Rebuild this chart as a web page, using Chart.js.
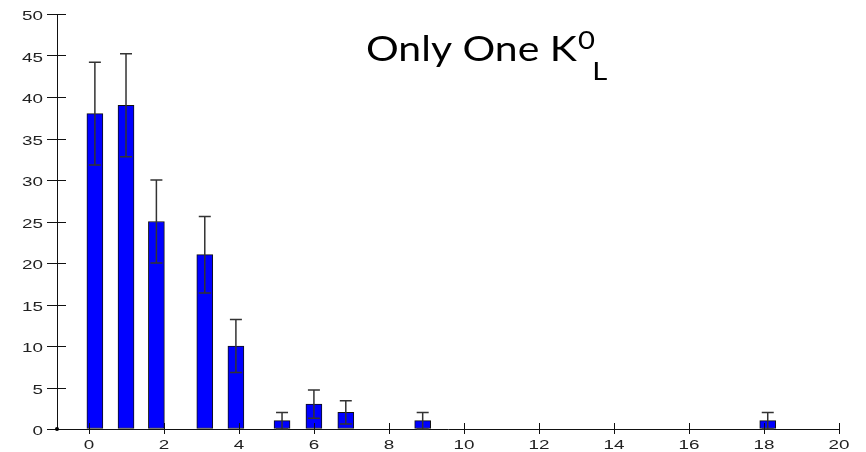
<!DOCTYPE html>
<html>
<head>
<meta charset="utf-8">
<script src="https://cdn.jsdelivr.net/npm/chart.js@4/dist/chart.umd.min.js"></script>
<style>
    html, body { margin: 0; padding: 0; background: #fff; }
    #wrap { width: 866px; height: 452px; }
</style>
</head>
<body>
<div id="wrap"><canvas id="histChart" width="866" height="452"></canvas></div>
<script>
// bin positions (as drawn on the x axis), counts and their errors
const binX = [0.16, 0.99, 1.8, 3.09, 3.92, 5.15, 6.0, 6.85, 8.9, 18.1];
const counts = [38, 39, 25, 21, 10, 1, 3, 2, 1, 1];
const errors = [6.2, 6.2, 5.0, 4.6, 3.2, 1.0, 1.7, 1.4, 1.0, 1.0];
const xTicks = [0, 2, 4, 6, 8, 10, 12, 14, 16, 18, 20];
const yTicks = [0, 5, 10, 15, 20, 25, 30, 35, 40, 45, 50];

const labelFont = '13px "Liberation Sans"';
const stretch = 1.45; // the source picture is wide, labels look stretched

/* error bars */
const errorBars = {
    id: 'errorBars',
    afterDatasetsDraw(chart) {
        const { ctx, scales: { x, y } } = chart;
        ctx.save();
        ctx.strokeStyle = '#333';
        ctx.lineWidth = 1.5;
        binX.forEach((bx, i) => {
            const px = x.getPixelForValue(bx);
            const top = y.getPixelForValue(counts[i] + errors[i]);
            const bot = y.getPixelForValue(Math.max(0, counts[i] - errors[i]));
            ctx.beginPath();
            ctx.moveTo(px, top);
            ctx.lineTo(px, bot);
            ctx.moveTo(px - 6, top);
            ctx.lineTo(px + 6, top);
            ctx.moveTo(px - 6, bot);
            ctx.lineTo(px + 6, bot);
            ctx.stroke();
        });
        ctx.restore();
    }
};

/* tick marks crossing the axes + stretched tick labels */
const axisTicks = {
    id: 'axisTicks',
    afterDraw(chart) {
        const { ctx, chartArea, scales: { x, y } } = chart;
        ctx.save();
        ctx.strokeStyle = '#111';
        ctx.lineWidth = 1;
        xTicks.forEach(v => {
            const px = Math.round(x.getPixelForValue(v)) + 0.5;
            ctx.beginPath();
            ctx.moveTo(px, chartArea.bottom - 6);
            ctx.lineTo(px, chartArea.bottom + 5);
            ctx.stroke();
        });
        yTicks.forEach(v => {
            const py = Math.round(y.getPixelForValue(v)) + 0.5;
            ctx.beginPath();
            ctx.moveTo(chartArea.left - 10, py);
            ctx.lineTo(chartArea.left + 9, py);
            ctx.stroke();
        });
        ctx.fillStyle = '#000';
        ctx.beginPath();
        ctx.arc(chartArea.left, chartArea.bottom, 2, 0, Math.PI * 2);
        ctx.fill();

        ctx.fillStyle = '#222';
        ctx.font = labelFont;
        ctx.textBaseline = 'alphabetic';
        x.ticks.forEach(t => {
            ctx.save();
            ctx.translate(x.getPixelForValue(t.value), chartArea.bottom + 20);
            ctx.scale(stretch, 1);
            ctx.textAlign = 'center';
            ctx.fillText(String(t.value), 0, 0);
            ctx.restore();
        });
        y.ticks.forEach(t => {
            ctx.save();
            ctx.translate(chartArea.left - 14, y.getPixelForValue(t.value) + 6);
            ctx.scale(stretch, 1);
            ctx.textAlign = 'right';
            ctx.fillText(String(t.value), 0, 0);
            ctx.restore();
        });
        ctx.restore();
    }
};

/* title with super/subscript */
const titleText = {
    id: 'titleText',
    afterDraw(chart) {
        const ctx = chart.ctx;
        ctx.save();
        ctx.fillStyle = '#000';
        ctx.textBaseline = 'alphabetic';
        ctx.translate(366, 0);
        ctx.scale(1.17, 1);
        ctx.font = '35px Lato';
        ctx.fillText('Only One K', 0, 61);
        const w = ctx.measureText('Only One K').width;
        ctx.font = '25px Lato';
        ctx.fillText('0', w + 1, 49);
        ctx.fillText('L', w + 13, 80);
        ctx.restore();
    }
};

const ctx = document.getElementById('histChart').getContext('2d');

new Chart(ctx, {
    type: 'bar',
    data: {
        datasets: [{
            data: binX.map((bx, i) => ({ x: bx, y: counts[i] })),
            backgroundColor: '#0000ff',
            borderColor: '#111',
            borderWidth: 1,
            borderSkipped: false,
            barThickness: 16
        }]
    },
    options: {
        responsive: false,
        animation: false,
        layout: { padding: { left: 0, right: 27, top: 14, bottom: 0 } },
        plugins: {
            legend: { display: false },
            tooltip: { enabled: false }
        },
        scales: {
            x: {
                type: 'linear',
                min: -0.85,
                max: 20,
                offset: false,
                grid: { display: true, drawOnChartArea: false, drawTicks: false, offset: false },
                border: { display: true, color: '#111', width: 1 },
                ticks: { stepSize: 2, includeBounds: false, display: false },
                afterFit: scale => { scale.height = 23; }
            },
            y: {
                min: 0,
                max: 50,
                grid: { display: true, drawOnChartArea: false, drawTicks: false },
                border: { display: true, color: '#111', width: 1 },
                ticks: { stepSize: 5, display: false },
                afterFit: scale => { scale.width = 57; }
            }
        }
    },
    plugins: [errorBars, axisTicks, titleText]
});
</script>
</body>
</html>
